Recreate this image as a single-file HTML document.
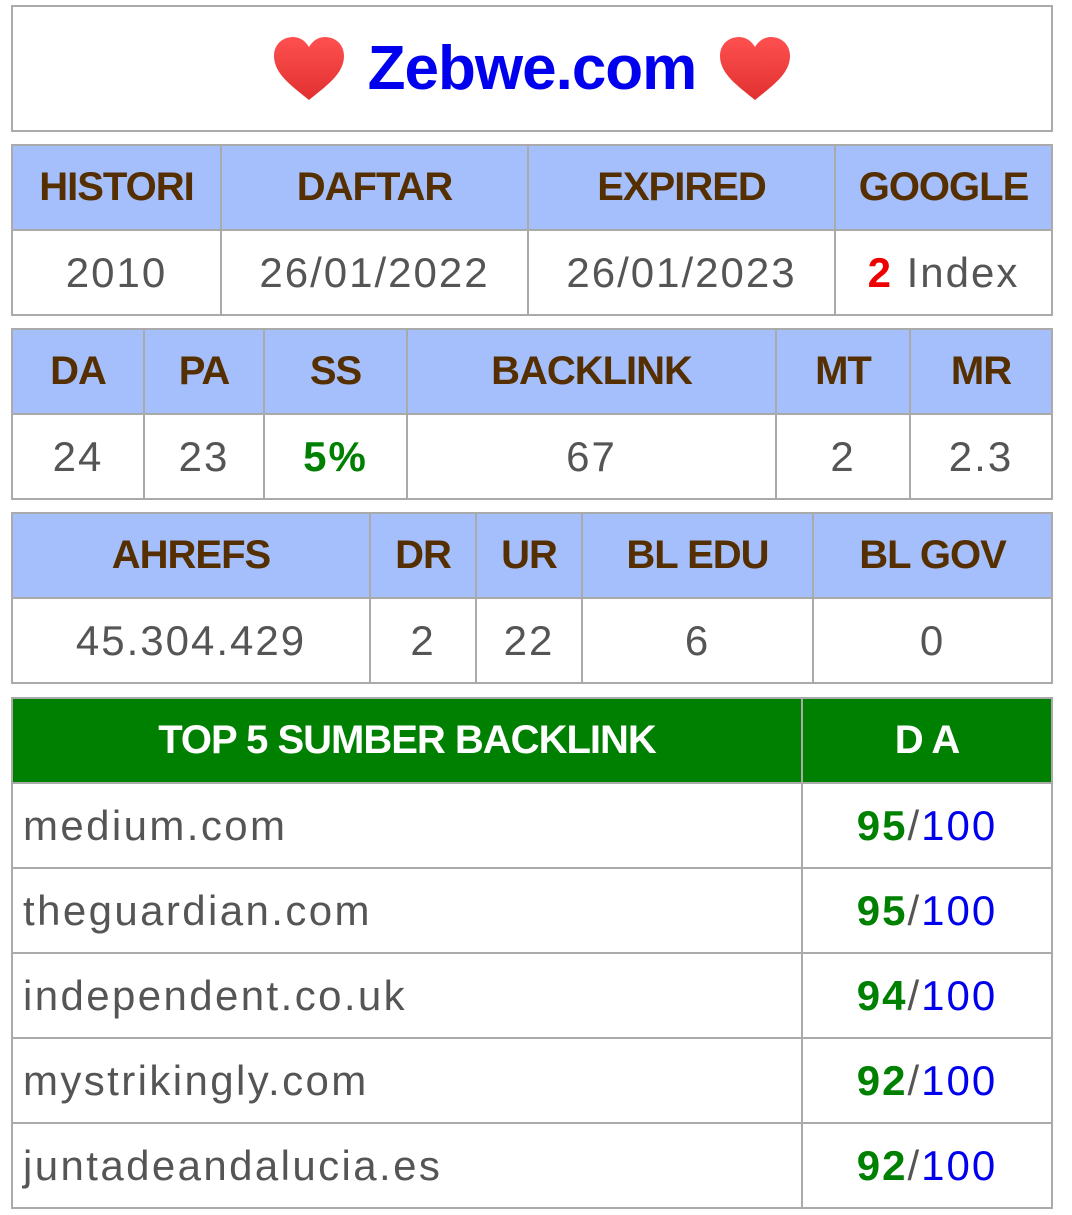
<!DOCTYPE html>
<html><head><meta charset="utf-8"><style>
body{margin:0;width:1072px;height:1215px;background:#fff;font-family:"Liberation Sans",sans-serif;position:relative;overflow:hidden}
.box{position:absolute;left:11px;width:1038px;top:5px;height:123px;border:2px solid #aaa;display:flex;align-items:center;justify-content:center;gap:22px}
.title{color:#0000ee;font-weight:bold;font-size:62px;letter-spacing:-1px}
table{position:absolute;left:11px;width:1042px;border-collapse:collapse;table-layout:fixed}
td{border:2px solid #aaa;text-align:center;height:83px;padding:0;font-size:42px;color:#555;letter-spacing:2px}
td.h{background:#a4bffb;color:#552f00;font-weight:bold;font-size:40px;letter-spacing:-1px}
td.g{background:#008000;color:#fff;font-weight:bold;font-size:40px;letter-spacing:-1px}
td.l{text-align:left;padding-left:10px;letter-spacing:2.4px}
.gr{color:#008000;font-weight:bold}.bl{color:#0000ee}.rd{color:#ee0000;font-weight:bold}
</style></head><body>
<div class="box">
<svg width="74" height="66" viewBox="0 0 74 66"><defs><linearGradient id="hg" x1="0" y1="0" x2="0" y2="1"><stop offset="0" stop-color="#ff5050"/><stop offset="1" stop-color="#e03030"/></linearGradient></defs><path d="M37 64 C20 50 2 38 2 20 C2 8 11 1 21 1 C29 1 34 6 37 11 C40 6 45 1 53 1 C63 1 72 8 72 20 C72 38 54 50 37 64Z" fill="url(#hg)"/></svg>
<span class="title">Zebwe.com</span>
<svg width="74" height="66" viewBox="0 0 74 66"><path d="M37 64 C20 50 2 38 2 20 C2 8 11 1 21 1 C29 1 34 6 37 11 C40 6 45 1 53 1 C63 1 72 8 72 20 C72 38 54 50 37 64Z" fill="url(#hg)"/></svg>
</div>
<table style="top:144px">
<colgroup><col style="width:209px"><col style="width:307px"><col style="width:307px"><col></colgroup>
<tr><td class="h">HISTORI</td><td class="h">DAFTAR</td><td class="h">EXPIRED</td><td class="h">GOOGLE</td></tr>
<tr><td>2010</td><td>26/01/2022</td><td>26/01/2023</td><td><span class="rd">2</span> Index</td></tr>
</table>
<table style="top:328px">
<colgroup><col style="width:132px"><col style="width:120px"><col style="width:143px"><col style="width:369px"><col style="width:134px"><col></colgroup>
<tr><td class="h">DA</td><td class="h">PA</td><td class="h">SS</td><td class="h">BACKLINK</td><td class="h">MT</td><td class="h">MR</td></tr>
<tr><td>24</td><td>23</td><td class="gr">5%</td><td>67</td><td>2</td><td>2.3</td></tr>
</table>
<table style="top:512px">
<colgroup><col style="width:358px"><col style="width:106px"><col style="width:106px"><col style="width:231px"><col></colgroup>
<tr><td class="h">AHREFS</td><td class="h">DR</td><td class="h">UR</td><td class="h">BL EDU</td><td class="h">BL GOV</td></tr>
<tr><td>45.304.429</td><td>2</td><td>22</td><td>6</td><td>0</td></tr>
</table>
<table style="top:697px">
<colgroup><col style="width:790px"><col></colgroup>
<tr><td class="g">TOP 5 SUMBER BACKLINK</td><td class="g">D A</td></tr>
<tr><td class="l">medium.com</td><td><span class="gr">95</span>/<span class="bl">100</span></td></tr>
<tr><td class="l">theguardian.com</td><td><span class="gr">95</span>/<span class="bl">100</span></td></tr>
<tr><td class="l">independent.co.uk</td><td><span class="gr">94</span>/<span class="bl">100</span></td></tr>
<tr><td class="l">mystrikingly.com</td><td><span class="gr">92</span>/<span class="bl">100</span></td></tr>
<tr><td class="l">juntadeandalucia.es</td><td><span class="gr">92</span>/<span class="bl">100</span></td></tr>
</table>
</body></html>
